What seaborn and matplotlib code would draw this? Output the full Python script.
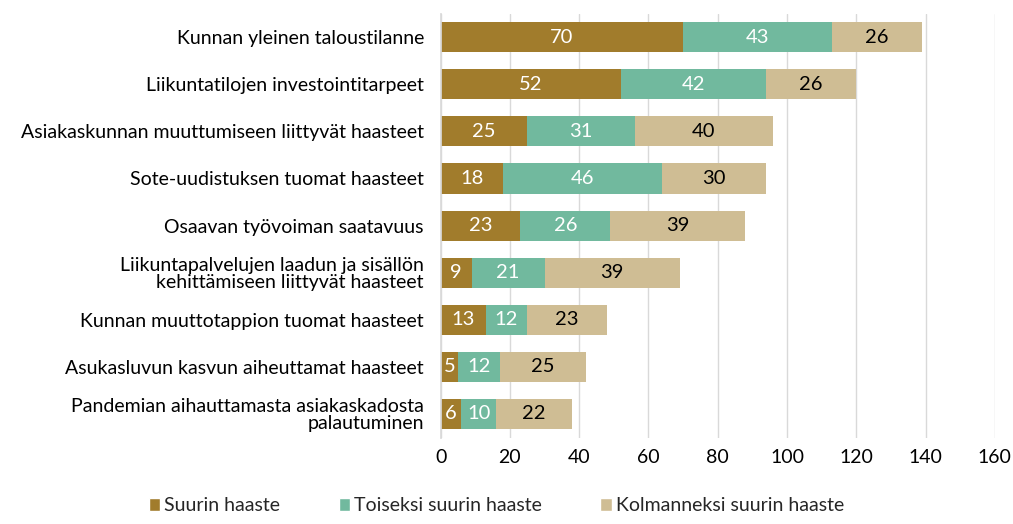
import matplotlib.pyplot as plt
import seaborn as sns
import numpy as np
import pandas as pd
from matplotlib.patches import Patch

categories = [
    "Kunnan yleinen taloustilanne",
    "Liikuntatilojen investointitarpeet",
    "Asiakaskunnan muuttumiseen liittyvät haasteet",
    "Sote-uudistuksen tuomat haasteet",
    "Osaavan työvoiman saatavuus",
    "Liikuntapalvelujen laadun ja sisällön\nkehittämiseen liittyvät haasteet",
    "Kunnan muuttotappion tuomat haasteet",
    "Asukasluvun kasvun aiheuttamat haasteet",
    "Pandemian aihauttamasta asiakaskadosta\npalautuminen",
]
suurin = [70, 52, 25, 18, 23, 9, 13, 5, 6]
toiseksi = [43, 42, 31, 46, 26, 21, 12, 12, 10]
kolmanneksi = [26, 26, 40, 30, 39, 39, 23, 25, 22]
series_names = ["Suurin haaste", "Toiseksi suurin haaste", "Kolmanneksi suurin haaste"]
colors = ["#A17C2C", "#71B99E", "#CFBD94"]
text_colors = ["white", "white", "black"]

sns.set_theme(style="white")
plt.rcParams["font.family"] = ["Lato", "DejaVu Sans"]

df = pd.DataFrame({
    "kategoria": categories,
    "s1": suurin,
    "s2": toiseksi,
    "s3": kolmanneksi,
})
df["c1"] = df["s1"]
df["c2"] = df["s1"] + df["s2"]
df["c3"] = df["c2"] + df["s3"]

fig = plt.figure(figsize=(10.13, 5.24), dpi=100)
ax = fig.add_axes([0.435, 0.165, 0.547, 0.809])

# layered bars: total first, then partial sums
for col, color in zip(["c3", "c2", "c1"], colors[::-1]):
    sns.barplot(data=df, y="kategoria", x=col, color=color, orient="h",
                width=0.64, saturation=1, linewidth=0, ax=ax, zorder=2)

for i in range(len(categories)):
    starts = [0, df["c1"][i], df["c2"][i]]
    vals = [df["s1"][i], df["s2"][i], df["s3"][i]]
    for s, v, tc in zip(starts, vals, text_colors):
        ax.text(s + v / 2, i, str(v), ha="center", va="center",
                color=tc, fontsize=14.5, zorder=3)

ax.set_xlim(0, 160)
ax.set_xticks(np.arange(0, 161, 20))
ax.set_xlabel("")
ax.set_ylabel("")
ax.grid(axis="x", color="#D9D9D9", linewidth=1, zorder=0)
ax.set_axisbelow(True)
for side in ["top", "right", "bottom"]:
    ax.spines[side].set_visible(False)
ax.spines["left"].set_color("#D9D9D9")
ax.tick_params(axis="both", length=0, labelsize=14, colors="black")
ax.tick_params(axis="y", pad=12)
ax.tick_params(axis="x", pad=8)
for lbl in ax.get_yticklabels():
    lbl.set_linespacing(1.0)

handles = [Patch(facecolor=c, label=n) for c, n in zip(colors, series_names)]
fig.legend(handles=handles, loc="lower center", ncol=3, frameon=False,
           bbox_to_anchor=(0.49, -0.015), fontsize=14, handlelength=0.6,
           handleheight=0.6, handletextpad=0.2, columnspacing=3.0)

fig.savefig("out.png", dpi=100)
